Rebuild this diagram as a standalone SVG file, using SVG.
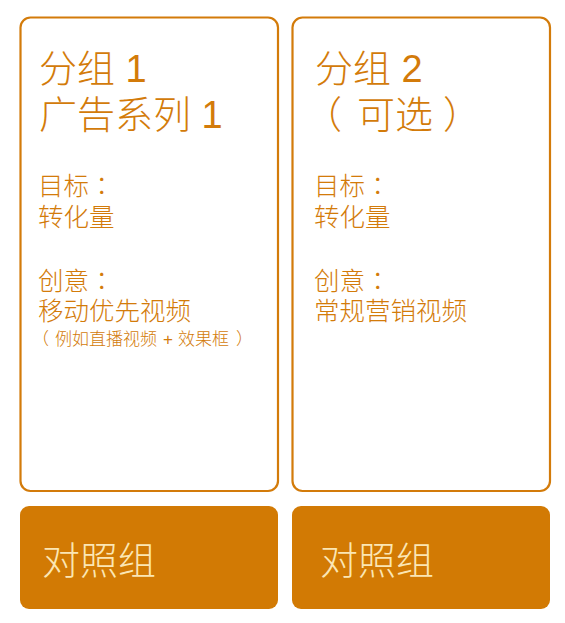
<svg xmlns="http://www.w3.org/2000/svg" width="565" height="623" viewBox="0 0 565 623">
<style>
.t{font-family:"Liberation Sans","Noto Sans CJK SC",sans-serif;font-weight:300;fill:#d37b0a}
.h{font-size:38px}
.m{font-size:25.5px}
.s{font-size:17px}
.c{font-family:"Noto Sans CJK TC",sans-serif}
.card{fill:#fff;stroke:#d37b0a;stroke-width:2.2}
.ctl{fill:#d27a04}
.ct{font-family:"Noto Sans CJK SC","Liberation Sans",sans-serif;font-weight:300;font-size:38px;fill:#fbe6b4}
</style>
<rect width="565" height="623" fill="#fff"/>
<g id="group1">
<rect class="card" x="20.5" y="17.5" width="257.5" height="473.5" rx="10"/>
<text class="t h" x="39" y="82">分组 1</text>
<text class="t h" x="39" y="128">广告系列 1</text>
<text class="t m" x="38" y="195">目标<tspan class="c">：</tspan></text>
<text class="t m" x="38" y="226">转化量</text>
<text class="t m" x="38" y="290">创意<tspan class="c">：</tspan></text>
<text class="t m" x="38" y="320">移动优先视频</text>
<text class="t s" y="345"><tspan x="32">（</tspan><tspan x="55">例如直播视频 </tspan><tspan x="163">+ </tspan><tspan x="178">效果框</tspan><tspan x="236">）</tspan></text>
</g>
<g id="group2">
<rect class="card" x="292.5" y="17.5" width="257.5" height="473.5" rx="10"/>
<text class="t h" x="315" y="82">分组 2</text>
<text class="t h" y="128"><tspan x="304">（</tspan><tspan x="357">可选</tspan><tspan x="443">）</tspan></text>
<text class="t m" x="314" y="195">目标<tspan class="c">：</tspan></text>
<text class="t m" x="314" y="226">转化量</text>
<text class="t m" x="314" y="290">创意<tspan class="c">：</tspan></text>
<text class="t m" x="314" y="320">常规营销视频</text>
</g>
<g id="control1">
<rect class="ctl" x="20" y="506" width="258" height="103" rx="9"/>
<text class="ct" x="42" y="574">对照组</text>
</g>
<g id="control2">
<rect class="ctl" x="292" y="506" width="258" height="103" rx="9"/>
<text class="ct" x="320" y="574">对照组</text>
</g>
<g id="connectors"/>
</svg>
